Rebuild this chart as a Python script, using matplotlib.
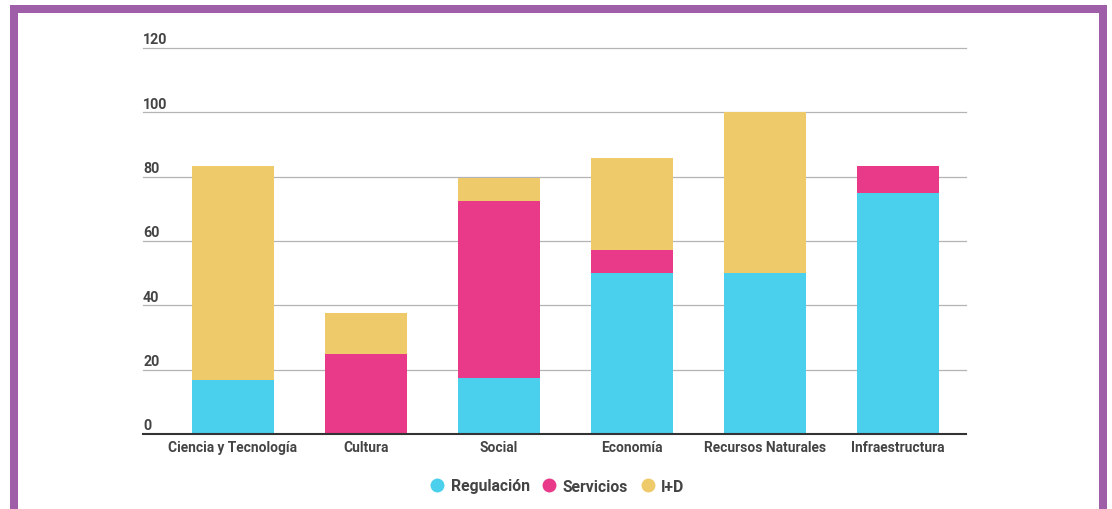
import matplotlib
matplotlib.use("Agg")
import matplotlib.pyplot as plt
from matplotlib.lines import Line2D
from matplotlib.patches import Rectangle
from matplotlib.transforms import offset_copy
import numpy as np

# Data: share of each area by type (%)
categories = ["Ciencia y Tecnología", "Cultura", "Social", "Economía",
              "Recursos Naturales", "Infraestructura"]
regulacion = [16.7, 0.0, 17.5, 50.0, 50.0, 75.0]
servicios = [0.0, 25.0, 54.9, 7.1, 0.0, 8.3]
i_d = [66.6, 12.5, 7.1, 28.6, 50.0, 0.0]
series_names = ["Regulación", "Servicios", "I+D"]
y_ticks = [0, 20, 40, 60, 80, 100, 120]

colors = ["#4acfed", "#e83a88", "#eeca6a"]
text_color = "#444444"
font = ["Roboto", "DejaVu Sans"]

W, H = 1112, 510
fig = plt.figure(figsize=(W / 100, H / 100), dpi=100)
fig.patch.set_facecolor("white")

# Purple frame around the whole card
frame = Rectangle((14 / W, -0.1), (1102.5 - 14) / W, 1 - 10 / H + 0.1,
                  transform=fig.transFigure, fill=False,
                  edgecolor="#9e5fa8", linewidth=8 * 0.72, zorder=0)
fig.add_artist(frame)

left, right, y0, y120 = 143, 966, 435, 49
ax = fig.add_axes([left / W, (H - y0) / H, (right - left) / W, (y0 - y120) / H])
ax.set_facecolor("none")

x = np.arange(len(categories))
width = 82 / 133
ax.set_xlim(-90 / 133, 5 + 68 / 133)
ax.set_ylim(0, 120)

bottom = np.zeros(len(categories))
for vals, col in zip([regulacion, servicios, i_d], colors):
    vals = np.array(vals)
    ax.bar(x, vals, width, bottom=bottom, color=col, edgecolor="none",
           zorder=3)
    bottom += vals

for s in ax.spines.values():
    s.set_visible(False)

# Horizontal gridlines and darker baseline
for t in y_ticks[1:]:
    ax.axhline(t, color="#b4b4b4", linewidth=0.9, zorder=1, clip_on=False)
ax.axhline(0, color="#333333", linewidth=1.5, zorder=4, clip_on=False)

# Y labels sit just above their gridline, left aligned
ytrans = offset_copy(ax.get_yaxis_transform(), fig=fig, x=0, y=1.5, units="dots")
for t in y_ticks:
    ax.text(0, t, str(t), transform=ytrans, ha="left", va="bottom",
            fontsize=10.3, fontweight="bold", color=text_color, family=font)
ax.set_yticks([])

ax.set_xticks(x)
ax.set_xticklabels(categories, fontsize=9.9, fontweight="bold",
                   color=text_color, family=font)
ax.tick_params(axis="x", length=0, pad=4.5)

handles = [Line2D([], [], marker="o", linestyle="none", markersize=10,
                  markerfacecolor=c, markeredgecolor="none") for c in colors]
fig.legend(handles, series_names, loc="center",
           bbox_to_anchor=(557 / W, 1 - 487 / H), ncol=3, frameon=False,
           handletextpad=0.35, columnspacing=0.75, handlelength=1.0,
           prop={"family": font, "size": 11.3, "weight": "bold"},
           labelcolor=text_color)

fig.savefig("out.png", dpi=100, facecolor="white")
